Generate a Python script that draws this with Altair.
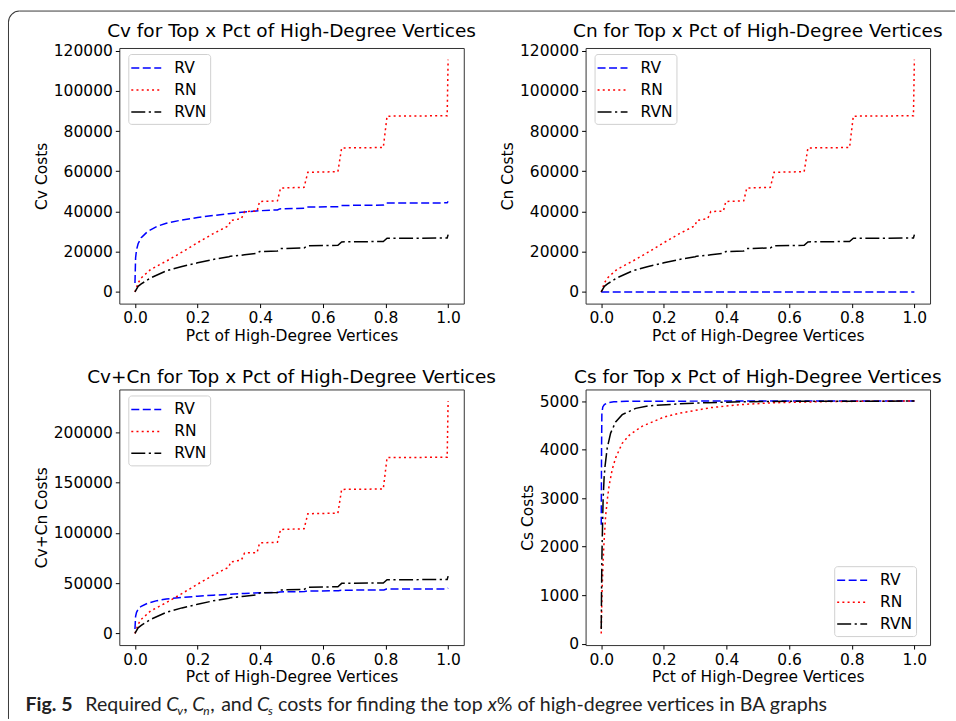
import math
import altair as alt
import pandas as pd

SERIES = ["RV", "RN", "RVN"]
COLORS = ["#0000ff", "#ff0000", "#000000"]
DASHES = [[8, 3.5], [2, 3.2], [14, 3.5, 2.2, 3.5]]

# ---- Cv costs -------------------------------------------------------------
cv_rv_x = [0, 0.002, 0.005, 0.01, 0.02, 0.04, 0.07, 0.1, 0.15, 0.2, 0.25, 0.3,
           0.35, 0.4, 0.455, 0.462, 0.542, 0.55, 0.65, 0.658, 0.795, 0.803,
           0.997, 1.0]
cv_rv_y = [4500, 17000, 21000, 24000, 27000, 30000, 32600, 34200, 35800,
           37000, 38000, 38900, 39800, 40400, 40800, 41300, 41600, 42200,
           42400, 43000, 43200, 44200, 44300, 45000]

cv_rn_x = [0, 0.01, 0.02, 0.05, 0.1, 0.15, 0.2, 0.25, 0.3, 0.305, 0.34, 0.35,
           0.39, 0.398, 0.455, 0.465, 0.54, 0.552, 0.648, 0.66, 0.793, 0.805,
           0.997, 1.0]
cv_rn_y = [0, 4500, 7000, 11200, 15300, 19800, 24500, 29000, 33000, 35500,
           36500, 40000, 40200, 45000, 45300, 51700, 52000, 59500, 59800,
           71600, 71800, 87400, 87600, 115500]

cv_rvn_x = cv_rn_x
cv_rvn_y = [0, 2800, 4000, 7000, 10500, 12700, 14500, 16200, 17500, 17800,
            18300, 18500, 19200, 20100, 20400, 21600, 21900, 23000, 23200,
            24900, 25100, 26700, 26800, 28500]

# ---- Cn costs -------------------------------------------------------------
cn_rv_x = cv_rv_x
cn_rv_y = [0] * len(cv_rv_x)
cn_rn_x = cv_rn_x
cn_rn_y = [0, 4500, 7000, 11200, 15300, 19800, 24500, 29000, 33000, 35500,
           36500, 40000, 40200, 45000, 45300, 51700, 52000, 59500, 59800,
           71600, 71800, 87400, 87600, 115500]
cn_rvn_x = cv_rn_x
cn_rvn_y = [0, 2800, 4000, 7000, 10500, 12700, 14500, 16200, 17500, 17800,
            18300, 18500, 19200, 20100, 20400, 21600, 21900, 23000, 23200,
            24900, 25100, 26700, 26800, 28500]

# ---- Cs costs -------------------------------------------------------------
cs_rv_x = [0, 0.001, 0.002, 0.005, 0.01, 0.02, 0.04, 0.08, 0.2, 1.0]
cs_rv_y = [2450, 4000, 4750, 4880, 4930, 4965, 4985, 4995, 4999, 5000]

cs_rn_x = [0, 0.001, 0.003, 0.006, 0.009, 0.014, 0.02, 0.025, 0.035, 0.046,
           0.067, 0.09, 0.13, 0.2, 0.25, 0.35, 0.45, 0.55, 0.7, 0.85, 1.0]
cs_rn_y = [210, 600, 1150, 1700, 2100, 2630, 3000, 3250, 3590, 3830, 4130,
           4300, 4480, 4670, 4750, 4865, 4930, 4965, 4988, 4997, 5000]

cs_rvn_x = [0, 0.001, 0.002, 0.003, 0.006, 0.009, 0.012, 0.019, 0.03, 0.046,
            0.067, 0.11, 0.15, 0.24, 0.34, 0.45, 0.6, 1.0]
cs_rvn_y = [300, 1100, 1700, 2100, 2970, 3400, 3650, 4030, 4340, 4570, 4720,
            4850, 4900, 4940, 4968, 4985, 4995, 5000]

X_TICKS = [0.0, 0.2, 0.4, 0.6, 0.8, 1.0]
FONT = "DejaVu Sans"
FS = 15.5
W, H = 345, 256
ROW_GAP, COL_GAP = 86, 122

# legend key: a 30 px horizontal stroke on a 20 px entry slot
KEY_PATH = "M-1.5,0H1.5"


def table(parts):
    rows = []
    for name, xs, ys in parts:
        for i, (x, y) in enumerate(zip(xs, ys)):
            rows.append({"series": name, "x": x, "y": y, "i": i})
    return pd.DataFrame(rows)


def panel(df, title, ytitle, yticks, legend_xy):
    lo, hi = df["y"].min(), df["y"].max()
    pad = 0.05 * (hi - lo)
    legend = alt.Legend(
        title=None, orient="none", legendX=legend_xy[0], legendY=legend_xy[1],
        symbolType=KEY_PATH, symbolSize=400, symbolStrokeWidth=1.5,
        symbolOffset=4, symbolFillColor="transparent",
        labelFont=FONT, labelFontSize=FS, labelColor="black", labelOffset=17,
        strokeColor="#d0d0d0", fillColor="white", cornerRadius=3,
        padding=3, rowPadding=2,
    )
    return alt.Chart(df).mark_line(strokeWidth=1.5).encode(
        x=alt.X("x:Q", title="Pct of High-Degree Vertices",
                scale=alt.Scale(domain=[-0.05, 1.05], nice=False, zero=False),
                axis=alt.Axis(values=X_TICKS, format=".1f")),
        y=alt.Y("y:Q", title=ytitle,
                scale=alt.Scale(domain=[lo - pad, hi + pad], nice=False, zero=False),
                axis=alt.Axis(values=yticks, format="d")),
        color=alt.Color("series:N", scale=alt.Scale(domain=SERIES, range=COLORS),
                        legend=legend),
        strokeDash=alt.StrokeDash("series:N",
                                  scale=alt.Scale(domain=SERIES, range=DASHES),
                                  legend=legend),
        order=alt.Order("i:Q"),
    ).properties(width=W, height=H, title=title)


cv = table([("RV", cv_rv_x, cv_rv_y), ("RN", cv_rn_x, cv_rn_y),
            ("RVN", cv_rvn_x, cv_rvn_y)])
cn = table([("RV", [0, 1.0], [0, 0]), ("RN", cn_rn_x, cn_rn_y),
            ("RVN", cn_rvn_x, cn_rvn_y)])
cvcn = table([
    ("RV", cv_rv_x, [a + b for a, b in zip(cv_rv_y, cn_rv_y)]),
    ("RN", cv_rn_x, [a + b for a, b in zip(cv_rn_y, cn_rn_y)]),
    ("RVN", cv_rvn_x, [a + b for a, b in zip(cv_rvn_y, cn_rvn_y)]),
])
cs = table([("RV", cs_rv_x, cs_rv_y), ("RN", cs_rn_x, cs_rn_y),
            ("RVN", cs_rvn_x, cs_rvn_y)])

p1 = panel(cv, "Cv for Top x Pct of High-Degree Vertices", "Cv Costs",
           list(range(0, 120001, 20000)), (9, 6))
p2 = panel(cn, "Cn for Top x Pct of High-Degree Vertices", "Cn Costs",
           list(range(0, 120001, 20000)), (9, 6))
p3 = panel(cvcn, "Cv+Cn for Top x Pct of High-Degree Vertices", "Cv+Cn Costs",
           list(range(0, 200001, 50000)), (9, 6))
p4 = panel(cs, "Cs for Top x Pct of High-Degree Vertices", "Cs Costs",
           list(range(0, 5001, 1000)), (249, 177))

# ---- caption cell (third grid row) with the figure frame ------------------
# Cell origin sits at (OX, OY) on the page; offsets below are page
# coordinates shifted by that origin.
OX, OY = 119, 47 + 2 * H + 2 * ROW_GAP
base = alt.Chart(pd.DataFrame({"k": [0]}))
CAP_Y = 711
CAP_FONT = "Lato"
CAP_SIZE = 19.6
SUB_SIZE = 12
CAP_COLOR = "#222222"


def cap(text, x, style="normal", weight="normal", size=CAP_SIZE, dy=0):
    return base.mark_text(text=text, align="left", baseline="alphabetic",
                          font=CAP_FONT, fontSize=size, fontStyle=style,
                          fontWeight=weight, color=CAP_COLOR).encode(
        x=alt.value(x - OX), y=alt.value(CAP_Y + dy - OY))


frame_color = "#3a3a3a"
top_line = base.mark_rule(color=frame_color, strokeWidth=1).encode(
    x=alt.value(19 - OX), x2=alt.value(956 - OX), y=alt.value(10 - OY))
left_line = base.mark_rule(color=frame_color, strokeWidth=1).encode(
    x=alt.value(8 - OX), y=alt.value(21 - OY), y2=alt.value(719 - OY))
corner = base.mark_arc(color=frame_color).encode(
    x=alt.value(19 - OX), y=alt.value(21 - OY),
    theta=alt.value(1.5 * math.pi), theta2=alt.value(2 * math.pi),
    radius=alt.value(11.5), radius2=alt.value(10.5))

caption = alt.layer(
    top_line, left_line, corner,
    cap("Fig. 5", 25, weight="bold"),
    cap("Required", 85),
    cap("C", 166, style="italic"), cap("v", 177, style="italic", size=SUB_SIZE, dy=4),
    cap(",", 183),
    cap("C", 192, style="italic"), cap("n", 203, style="italic", size=SUB_SIZE, dy=4),
    cap(",", 210),
    cap("and", 221),
    cap("C", 257, style="italic"), cap("s", 268, style="italic", size=SUB_SIZE, dy=4),
    cap("costs for finding the top", 278),
    cap("x", 488, style="italic"),
    cap("% of high-degree vertices in BA graphs", 497),
).properties(width=W, height=1, view=alt.ViewBackground(stroke="transparent"))

chart = alt.concat(
    p1, p2, p3, p4, caption, columns=2,
    spacing={"row": ROW_GAP, "column": COL_GAP}, bounds="flush",
).resolve_scale(
    color="independent", strokeDash="independent"
).resolve_legend(
    color="independent", strokeDash="independent"
).properties(
    padding={"left": 7.5, "top": 9.5, "right": 0, "bottom": 0},
    background="white",
).configure_view(
    stroke="#333333", strokeWidth=1
).configure_axis(
    labelFont=FONT, labelFontSize=FS, labelColor="black", labelPadding=3,
    titleFont=FONT, titleFontSize=FS, titleFontWeight="normal",
    titleColor="black", titlePadding=4,
    tickColor="black", tickSize=4, tickWidth=1, domain=False, grid=False,
).configure_axisX(
    titlePadding=2
).configure_title(
    font=FONT, fontSize=18.5, fontWeight="normal", color="black",
    anchor="middle", offset=3, baseline="alphabetic",
)

chart.save("out.html", embed_options={"renderer": "svg", "actions": False})
